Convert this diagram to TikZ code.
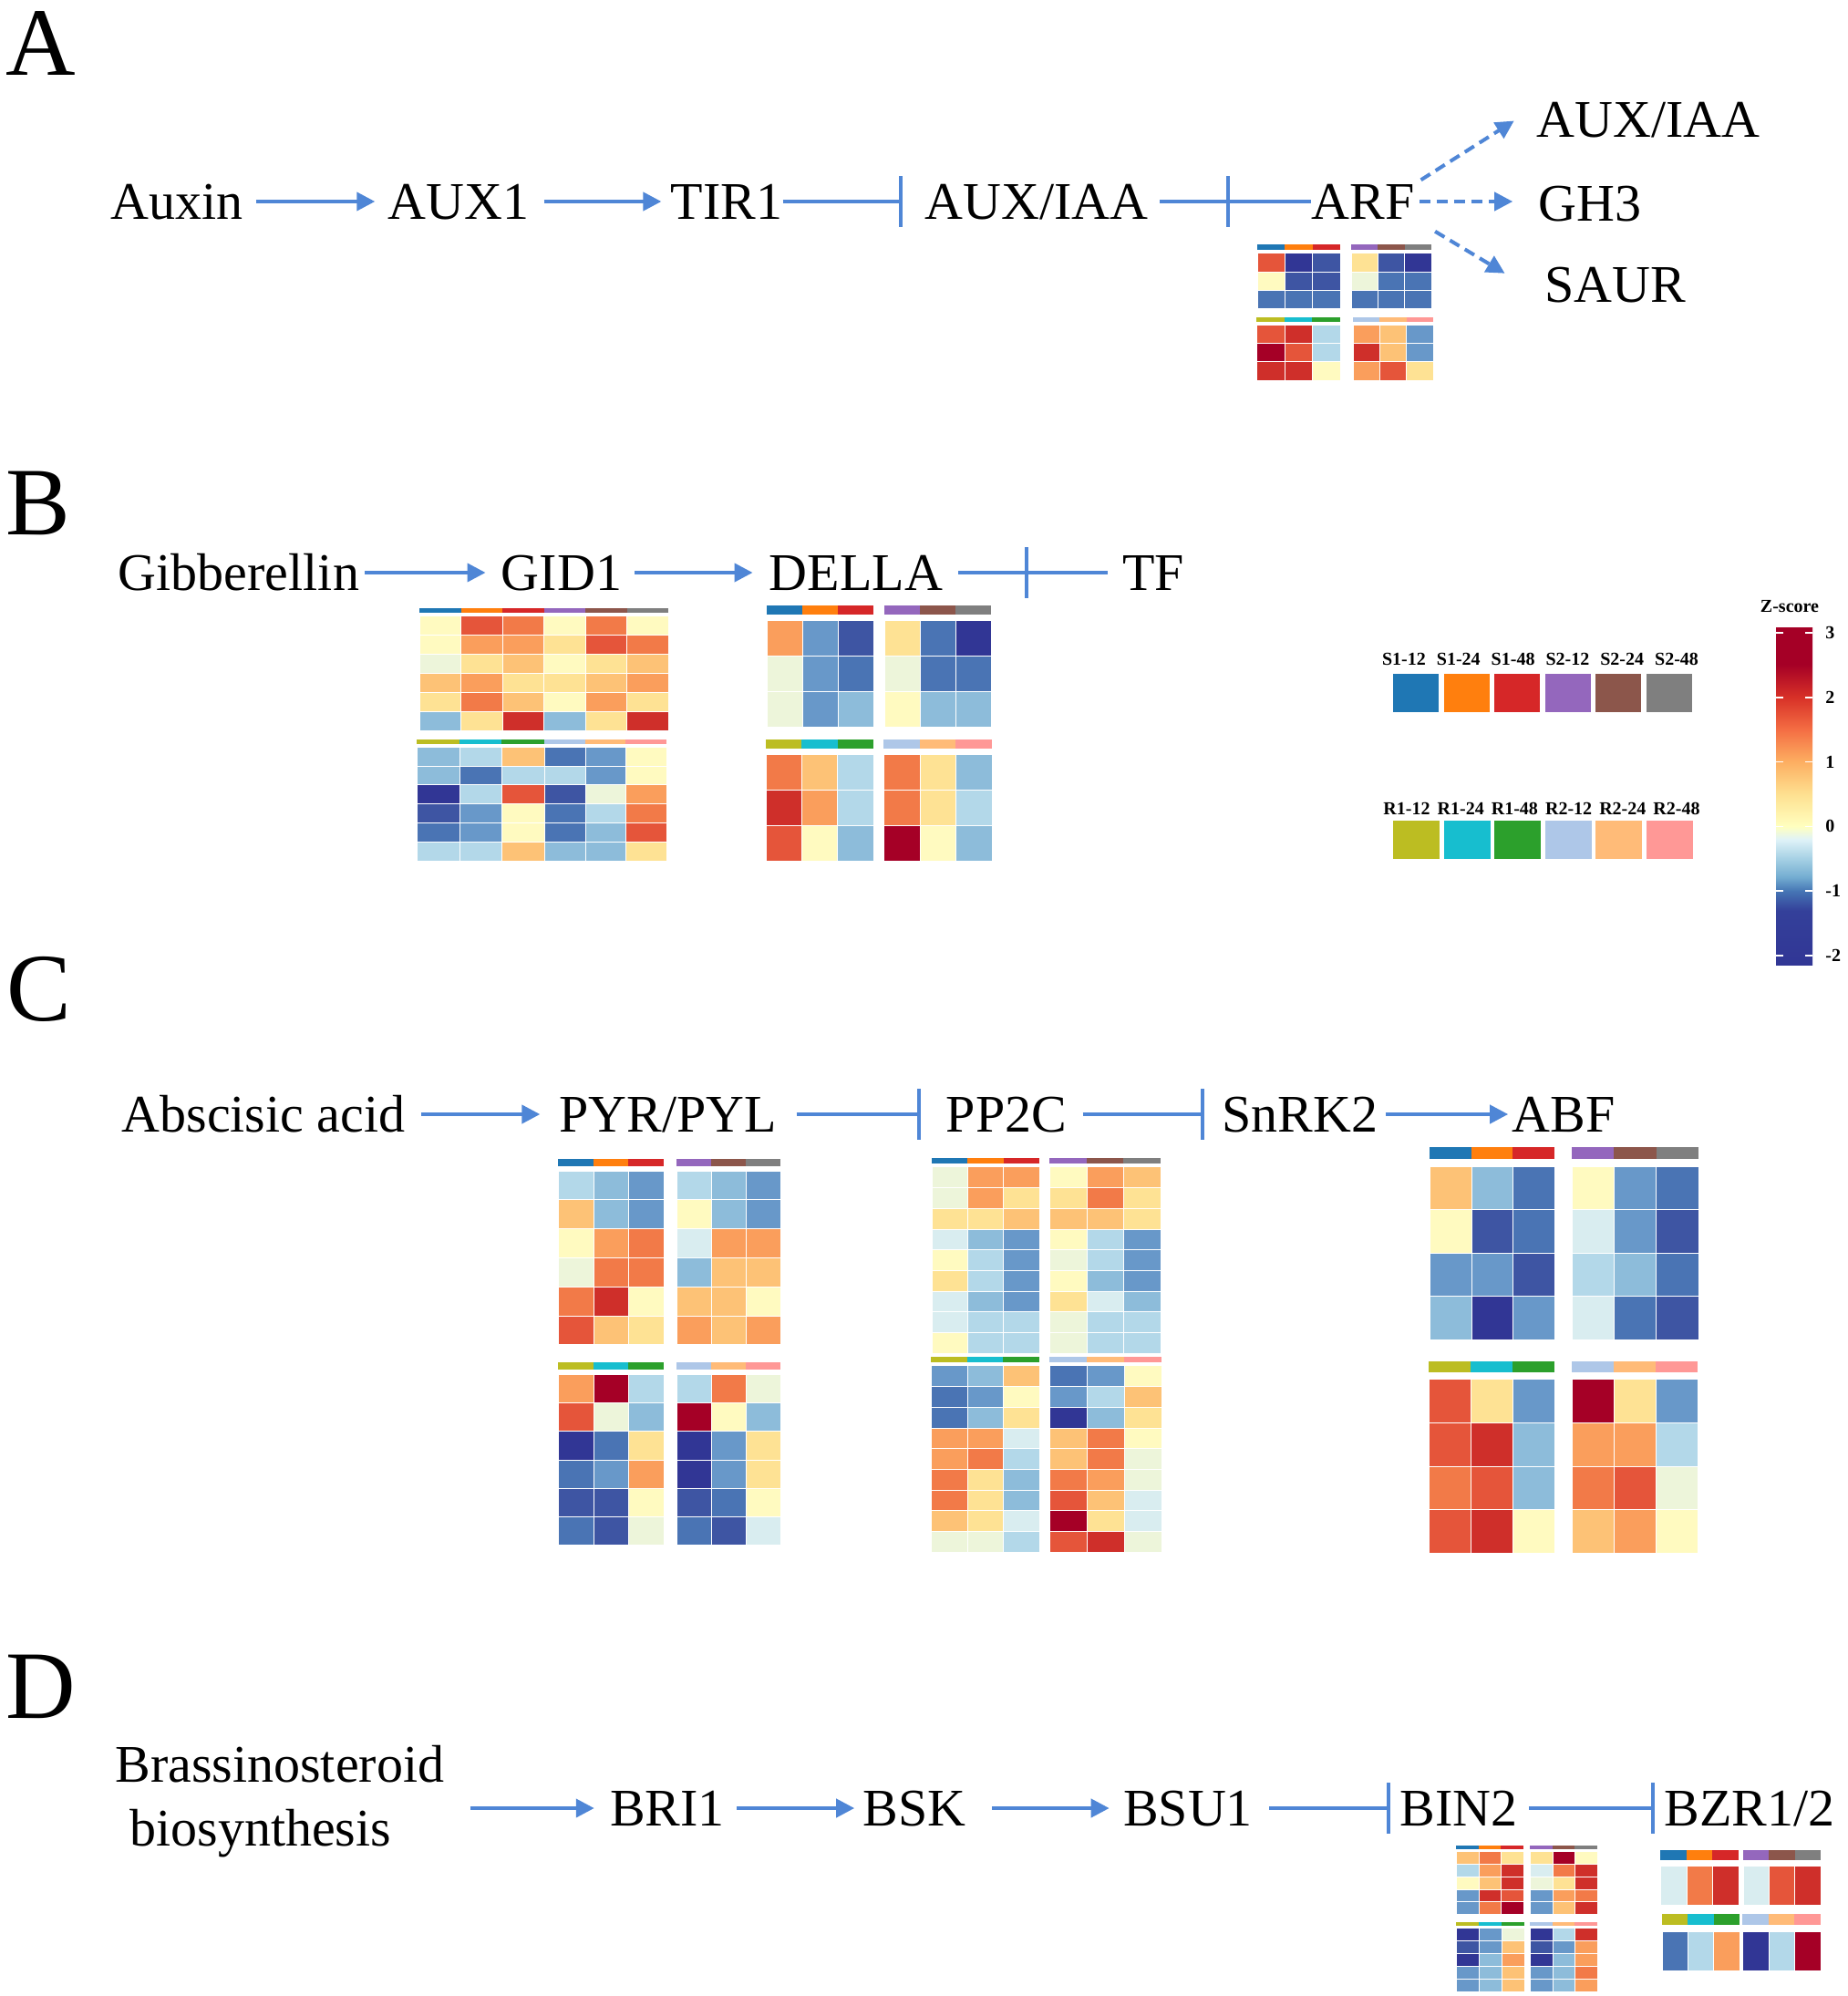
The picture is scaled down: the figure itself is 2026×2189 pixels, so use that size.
\documentclass[tikz,border=0pt]{standalone}
\usepackage{fontspec}
\setmainfont{Liberation Serif}
\usetikzlibrary{arrows.meta}

\definecolor{pathblue}{RGB}{79,134,214}
\definecolor{hm0}{HTML}{313695}
\definecolor{hm1}{HTML}{3E55A3}
\definecolor{hm2}{HTML}{4A74B4}
\definecolor{hm3}{HTML}{6898C9}
\definecolor{hm4}{HTML}{8DBCDA}
\definecolor{hm5}{HTML}{B3D8E9}
\definecolor{hm6}{HTML}{D9EDF0}
\definecolor{hm7}{HTML}{EDF5DA}
\definecolor{hm8}{HTML}{FFFAC0}
\definecolor{hm9}{HTML}{FEE294}
\definecolor{hm10}{HTML}{FDC276}
\definecolor{hm11}{HTML}{FA9E5C}
\definecolor{hm12}{HTML}{F27A48}
\definecolor{hm13}{HTML}{E5553A}
\definecolor{hm14}{HTML}{CF2F2A}
\definecolor{hm15}{HTML}{A50026}
\definecolor{s112}{HTML}{1F77B4}
\definecolor{s124}{HTML}{FF7F0E}
\definecolor{s148}{HTML}{D62728}
\definecolor{s212}{HTML}{9467BD}
\definecolor{s224}{HTML}{8C564B}
\definecolor{s248}{HTML}{7F7F7F}
\definecolor{r112}{HTML}{BCBD22}
\definecolor{r124}{HTML}{17BECF}
\definecolor{r148}{HTML}{2CA02C}
\definecolor{r212}{HTML}{AEC7E8}
\definecolor{r224}{HTML}{FFBB78}
\definecolor{r248}{HTML}{FF9896}
\definecolor{zb1}{HTML}{34409A}
\definecolor{zb2}{HTML}{4575B4}
\definecolor{zb3}{HTML}{74ADD1}
\definecolor{zb4}{HTML}{A5D0E4}
\definecolor{zb5}{HTML}{E0F3F8}
\definecolor{zb6}{HTML}{FFFFBF}
\definecolor{zb7}{HTML}{FEE090}
\definecolor{zb8}{HTML}{FDAE61}
\definecolor{zb9}{HTML}{F46D43}
\definecolor{zb10}{HTML}{D73027}

\pgfdeclareverticalshading{zscore}{100bp}{color(0bp)=(hm0); color(25bp)=(hm0); color(33bp)=(zb1); color(35.9bp)=(zb2); color(38bp)=(zb3); color(40.7bp)=(zb4); color(43.6bp)=(zb5); color(45.5bp)=(zb6); color(50.3bp)=(zb7); color(55.1bp)=(zb8); color(59.9bp)=(zb9); color(64.7bp)=(zb10); color(69.5bp)=(hm15); color(75bp)=(hm15); color(100bp)=(hm15)}

\newcommand{\genefont}{\fontsize{29}{35}\selectfont}
\newcommand{\panelfont}{\fontsize{53}{60}\selectfont}
\newcommand{\legfont}{\fontsize{10}{12}\selectfont\bfseries}

\def\Sone{s112,s124,s148}
\def\Stwo{s212,s224,s248}
\def\Rone{r112,r124,r148}
\def\Rtwo{r212,r224,r248}

\newcommand{\hmblock}[7]{%
  \foreach \bc [count=\bi from 0] in #6
    \fill[fill=\bc] ({#1+\bi*#3},#2) rectangle ++(#3,#5);
  \foreach \hmrow [count=\ri from 0] in {#7}
    \foreach \hv [count=\ci from 0] in \hmrow
      \filldraw[fill=hm\hv, draw=white, line width=0.2pt] ({#1+\ci*#3},{#2+1.6*#5+\ri*#4}) rectangle ++(#3,#4);
}

\tikzset{
  gene/.style={inner sep=0pt, text height=19pt, text depth=0pt, font=\genefont},
  panel/.style={inner sep=0pt, text height=35pt, text depth=0pt, font=\panelfont},
  leglab/.style={inner sep=0pt, font=\legfont},
  link/.style={draw=pathblue, line width=2pt},
  act/.style={link, -{Triangle[length=10pt,width=10pt]}},
  inh/.style={link, -{Bar[width=28pt]}},
  dashact/.style={act, dash pattern=on 6pt off 3.5pt}
}

\begin{document}
\begin{tikzpicture}[x=0.5pt,y=-0.5pt]
\useasboundingbox (0,0) rectangle (2026,2189);

\node[panel] (pA) at (45,48) {A};
\node[panel] (pB) at (42,551) {B};
\node[panel] (pC) at (43,1084) {C};
\node[panel] (pD) at (45,1849) {D};

\node[gene] (auxin) at (194,221) {Auxin};
\node[gene] (aux1) at (503,221) {AUX1};
\node[gene] (tir1) at (797,221) {TIR1};
\node[gene] (auxiaa) at (1137,221) {AUX/IAA};
\node[gene] (arf) at (1495,221) {ARF};
\node[gene] (auxiaab) at (1808,131) {AUX/IAA};
\node[gene] (gh3) at (1744,223) {GH3};
\node[gene] (saur) at (1772,312) {SAUR};
\coordinate (cutA) at (1349,221);

\draw[act, shorten <=7pt, shorten >=7pt] (auxin) -- (aux1);
\draw[act, shorten <=8pt, shorten >=5pt] (aux1) -- (tir1);
\draw[inh, shorten >=12pt] (tir1) -- (auxiaa);
\draw[inh, shorten <=6pt] (auxiaa) -- (cutA);
\draw[link] (cutA) -- (arf);
\draw[dashact, shorten <=4pt, shorten >=14.5pt] (arf.north east) -- ([shift={(0,-14)}]auxiaab.west);
\draw[dashact, shorten <=2.5pt, shorten >=14pt] (arf.east) -- (gh3.west |- arf.east);
\draw[dashact, shorten <=13pt, shorten >=25.5pt] (arf.south east) -- ([shift={(0,14)}]saur.west);

\hmblock{1379}{268}{30.3}{20.3}{6}{\Sone}{{13,0,1},{8,1,1},{2,2,2}}
\hmblock{1482}{268}{29.3}{20.3}{6}{\Stwo}{{9,1,0},{7,2,2},{2,2,2}}
\hmblock{1378}{348}{30.7}{20.3}{5}{\Rone}{{13,14,5},{15,13,5},{14,14,8}}
\hmblock{1484}{348}{29.3}{20.3}{5}{\Rtwo}{{11,10,3},{14,10,3},{11,13,9}}

\node[gene] (gib) at (262,628) {Gibberellin};
\node[gene] (gid1) at (616,628) {GID1};
\node[gene] (della) at (939,628) {DELLA};
\node[gene] (tf) at (1265,628) {TF};
\coordinate (cutB) at (1128,628);

\draw[act, shorten <=3pt, shorten >=8.5pt] (gib) -- (gid1);
\draw[act, shorten <=7pt, shorten >=9pt] (gid1) -- (della);
\draw[inh, shorten <=8.5pt] (della) -- (cutB);
\draw[link, shorten >=8pt] (cutB) -- (tf);

\hmblock{460}{667}{45.5}{21}{5}{\Sone}{{8,13,12},{8,11,11},{7,9,10},{10,11,9},{9,12,10},{4,9,14}}
\hmblock{596.5}{667}{45.5}{21}{5}{\Stwo}{{8,12,8},{9,13,12},{8,9,10},{9,10,11},{8,11,9},{4,9,14}}
\hmblock{457}{811}{46.7}{20.8}{5}{\Rone}{{4,5,10},{4,2,5},{0,5,13},{1,3,8},{2,3,8},{5,5,10}}
\hmblock{597}{811}{44.7}{20.8}{5}{\Rtwo}{{2,3,8},{5,3,8},{1,7,11},{2,5,12},{2,4,13},{4,4,9}}

\hmblock{841}{664}{39}{39}{10}{\Sone}{{11,3,1},{7,3,2},{7,3,4}}
\hmblock{970}{664}{39}{39}{10}{\Stwo}{{9,2,0},{7,2,2},{8,4,4}}
\hmblock{840}{811}{39.3}{39}{10}{\Rone}{{12,10,5},{14,11,5},{13,8,4}}
\hmblock{969}{811}{39.7}{39}{10}{\Rtwo}{{12,9,4},{12,9,5},{15,8,4}}

\foreach \lab/\col [count=\i from 0] in {S1-12/s112,S1-24/s124,S1-48/s148,S2-12/s212,S2-24/s224,S2-48/s248}{
  \fill[\col] ({1528+\i*55.6},739) rectangle ++(50,42);
  \node[leglab] (ls\i) at ({1540+\i*59.8},723) {\lab};
}
\foreach \lab/\col [count=\i from 0] in {R1-12/r112,R1-24/r124,R1-48/r148,R2-12/r212,R2-24/r224,R2-48/r248}{
  \fill[\col] ({1528+\i*55.6},900) rectangle ++(51,42);
  \node[leglab] (lr\i) at ({1543+\i*59.2},887) {\lab};
}

\node[leglab] (ztitle) at (1963,665) {Z-score};
\shade[shading=zscore] (1948,688) rectangle (1988,1058);
\foreach \z [count=\k] in {3,2,1,0,-1,-2}{
  \pgfmathsetmacro\zy{694+(3-(\z))*70.8}
  \draw[white, line width=0.8pt] (1948,\zy) -- ++(8,0) (1988,\zy) -- ++(-8,0);
  \node[leglab, anchor=west] (zt\k) at (2002,\zy) {\z};
}

\node[gene] (aba) at (289,1222) {Abscisic acid};
\node[gene] (pyr) at (733,1222) {PYR/PYL};
\node[gene] (pp2c) at (1104,1222) {PP2C};
\node[gene] (snrk2) at (1426,1222) {SnRK2};
\node[gene] (abf) at (1715,1222) {ABF};

\draw[act, shorten <=8.5pt, shorten >=10.5pt] (aba) -- (pyr);
\draw[inh, shorten <=10.5pt, shorten >=14pt] (pyr) -- (pp2c);
\draw[inh, shorten <=8.5pt, shorten >=9.5pt] (pp2c) -- (snrk2);
\draw[act, shorten <=4pt, shorten >=2pt] (snrk2) -- (abf);

\hmblock{612}{1271}{38.7}{31.8}{8}{\Sone}{{5,4,3},{10,4,3},{8,11,12},{7,12,12},{12,14,8},{13,10,9}}
\hmblock{742}{1271}{38}{31.8}{8}{\Stwo}{{5,4,3},{8,4,3},{6,11,11},{4,10,10},{10,10,8},{11,10,11}}
\hmblock{612}{1494}{38.7}{31.3}{8}{\Rone}{{11,15,5},{13,7,4},{0,2,9},{2,3,11},{1,1,8},{2,1,7}}
\hmblock{742}{1494}{38}{31.3}{8}{\Rtwo}{{5,12,7},{15,8,4},{0,3,9},{0,3,9},{1,2,8},{2,1,6}}

\hmblock{1022}{1270}{39.3}{22.7}{6}{\Sone}{{7,11,11},{7,11,9},{9,9,10},{6,4,3},{8,5,3},{9,5,3},{6,4,3},{6,5,5},{8,5,5}}
\hmblock{1151}{1270}{40.7}{22.7}{6}{\Stwo}{{8,11,10},{9,12,9},{10,10,9},{8,5,3},{7,5,3},{8,4,3},{9,6,4},{7,5,5},{7,5,5}}
\hmblock{1021}{1488}{39.7}{22.7}{6}{\Rone}{{3,4,10},{2,3,8},{2,4,9},{11,11,6},{11,12,5},{12,9,4},{12,9,4},{10,9,6},{7,7,5}}
\hmblock{1151}{1488}{41}{22.7}{6}{\Rtwo}{{2,3,8},{3,5,10},{0,4,9},{10,12,8},{10,12,7},{12,11,7},{13,10,6},{15,9,6},{13,14,7}}

\hmblock{1568}{1258}{45.7}{47.5}{13}{\Sone}{{10,4,2},{8,1,2},{3,3,1},{4,0,3}}
\hmblock{1724}{1258}{46.3}{47.5}{13}{\Stwo}{{8,3,2},{6,3,1},{5,4,2},{6,2,1}}
\hmblock{1567}{1493}{46}{47.8}{12}{\Rone}{{13,9,3},{13,14,4},{12,13,4},{13,14,8}}
\hmblock{1724}{1493}{46}{47.8}{12}{\Rtwo}{{15,9,3},{11,11,5},{12,13,7},{10,11,8}}

\node[inner sep=0pt, font=\genefont, align=left, anchor=west] (bras) at (126,1976) {Brassinosteroid\\\hspace*{8pt}biosynthesis};
\node[gene] (bri1) at (732,1983) {BRI1};
\node[gene] (bsk) at (1003,1983) {BSK};
\node[gene] (bsu1) at (1303,1983) {BSU1};
\node[gene] (bin2) at (1600,1983) {BIN2};
\node[gene] (bzr) at (1919,1983) {BZR1/2};

\draw[act, shorten <=14pt, shorten >=8.5pt] (bras.east |- bri1) -- (bri1);
\draw[act, shorten <=6.5pt, shorten >=4.5pt] (bri1) -- (bsk);
\draw[act, shorten <=14pt, shorten >=7.5pt] (bsk) -- (bsu1);
\draw[inh, shorten <=9pt, shorten >=5pt] (bsu1) -- (bin2);
\draw[inh, shorten <=6pt, shorten >=5pt] (bin2) -- (bzr);

\hmblock{1597}{2024}{24.7}{13.8}{4}{\Sone}{{10,12,9},{5,11,14},{8,10,14},{3,14,13},{3,12,15}}
\hmblock{1678}{2024}{24.7}{13.8}{4}{\Stwo}{{9,15,8},{6,12,14},{7,9,14},{3,11,12},{3,10,14}}
\hmblock{1597}{2108}{25}{14}{4}{\Rone}{{0,3,7},{1,3,10},{0,4,11},{3,4,10},{3,4,10}}
\hmblock{1678}{2108}{24.7}{14}{4}{\Rtwo}{{0,5,14},{1,3,11},{0,4,11},{3,4,12},{3,4,11}}

\hmblock{1821}{2029}{28.7}{43}{11}{\Sone}{{6,12,14}}
\hmblock{1912}{2029}{28.3}{43}{11}{\Stwo}{{6,13,14}}
\hmblock{1823}{2099}{28.3}{43}{12}{\Rone}{{2,5,11}}
\hmblock{1911}{2099}{28.7}{43}{12}{\Rtwo}{{0,5,15}}
\end{tikzpicture}
\end{document}
